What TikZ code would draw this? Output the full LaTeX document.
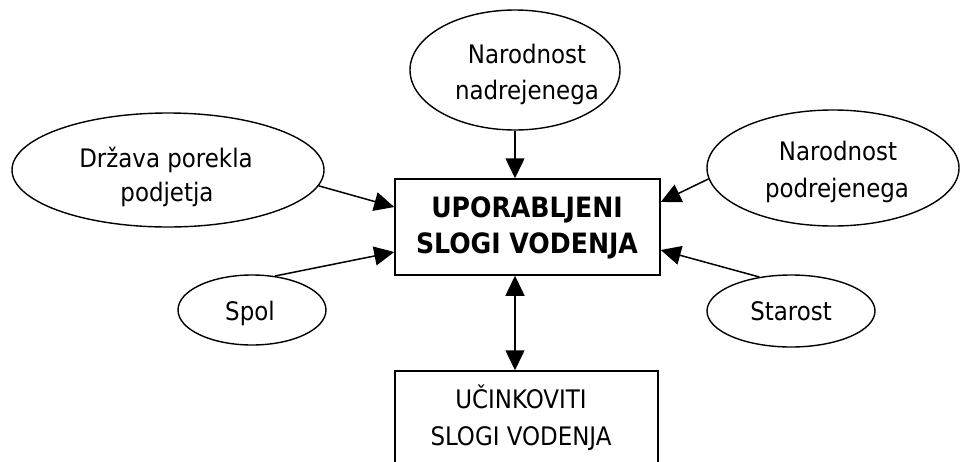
\documentclass[tikz,border=0pt]{standalone}
\usepackage{fontspec}
\setmainfont{DejaVu Sans Condensed}
\usetikzlibrary{shapes.geometric,arrows.meta,calc}
\begin{document}
\begin{tikzpicture}[x=1pt,y=-1pt,
  oval/.style={draw, ellipse, line width=1.4pt, inner sep=0pt},
  box/.style={draw, rectangle, line width=1.5pt, inner sep=0pt},
  lbl/.style={anchor=base, inner sep=0pt, font=\fontsize{25.5}{30}\selectfont},
  blbl/.style={anchor=base, inner sep=0pt, font=\fontsize{28}{32}\selectfont\bfseries},
  arr/.style={line width=1.5pt, -{Triangle[length=20pt,width=19pt]}},
  darr/.style={line width=1.5pt, {Triangle[length=20pt,width=19pt]}-{Triangle[length=20pt,width=19pt]}}]
\useasboundingbox (0,0) rectangle (960,461);
% shapes
\node[oval, minimum width=210pt, minimum height=120pt] (nad) at (515,70) {};
\node[oval, minimum width=312pt, minimum height=114pt] (drz) at (168,170) {};
\node[oval, minimum width=252pt, minimum height=116pt] (pod) at (833,168) {};
\node[oval, minimum width=148pt, minimum height=70pt] (spol) at (252,310) {};
\node[oval, minimum width=168pt, minimum height=72pt] (star) at (791,311) {};
\node[box, minimum width=265pt, minimum height=96pt] (main) at (527.5,227) {};
\node[box, minimum width=263pt, minimum height=96pt] (eff) at (526.5,419) {};
% texts
\node[lbl] (nadA) at (527,63) {Narodnost};
\node[lbl] (nadB) at (527,99) {nadrejenega};
\node[lbl] (drzA) at (166,167) {Država porekla};
\node[lbl] (drzB) at (167,201) {podjetja};
\node[lbl] (podA) at (838,160) {Narodnost};
\node[lbl] (podB) at (837,197) {podrejenega};
\node[lbl] (spolT) at (250,320) {Spol};
\node[lbl] (starT) at (791,320) {Starost};
\node[blbl] (mainA) at (527,217) {UPORABLJENI};
\node[blbl] (mainB) at (527,253) {SLOGI VODENJA};
\node[lbl] (effA) at (521,408) {UČINKOVITI};
\node[lbl] (effB) at (521,445) {SLOGI VODENJA};
% connectors
\draw[arr] (nad.south) -- (nad.south |- main.north);
\draw[darr] (nad.south |- main.south) -- (nad.south |- eff.north);
\draw[arr] (drz.-6.6) -- ($(main.west)+(0,-20)$);
\draw[arr] (spol.56.7) -- ($(main.west)+(0,25)$);
\draw[arr] (pod.185.4) -- ($(main.east)+(0,-25)$);
\draw[arr] (star.133.4) -- ($(main.east)+(0,23)$);
\end{tikzpicture}
\end{document}
